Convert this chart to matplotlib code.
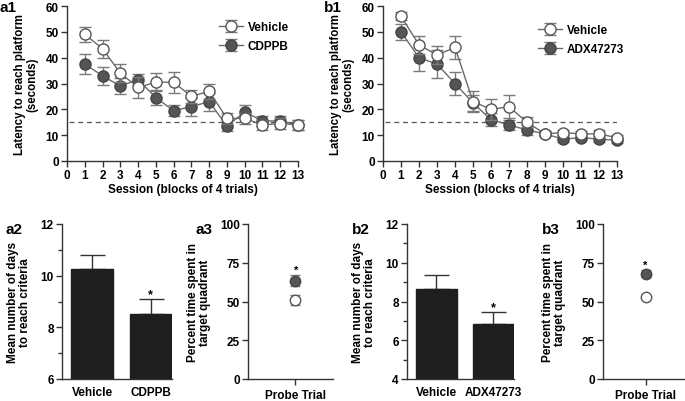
import numpy as np
import matplotlib.pyplot as plt

plt.rcParams['font.family'] = ['Liberation Sans', 'DejaVu Sans']
plt.rcParams['font.weight'] = 'bold'

# Data
sessions = np.arange(1, 14)

a1_vehicle = [49, 43.5, 34, 28.5, 30.5, 30.5, 25, 27, 16.5, 16.5, 14, 14.5, 14]
a1_vehicle_err = [3, 3.5, 3.5, 4, 3.5, 4, 2.5, 3, 2, 2, 2, 2, 2]
a1_cdppb = [37.5, 33, 29, 31.5, 24.5, 19.5, 21, 23, 13.5, 19, 15.5, 15.5, 14]
a1_cdppb_err = [4, 3.5, 3, 2, 3, 2, 3.5, 3.5, 2, 2.5, 2, 2, 2]

b1_vehicle = [56, 45, 41, 44, 23, 20, 21, 15, 10.5, 11, 10.5, 10.5, 9]
b1_vehicle_err = [1.5, 3.5, 3.5, 4.5, 4, 4, 4.5, 2, 1, 1, 1, 1.5, 1]
b1_adx = [50, 40, 37.5, 30, 22.5, 16, 14, 12, 10.5, 8.5, 9, 8.5, 8]
b1_adx_err = [3, 5, 5.5, 4.5, 3, 2.5, 2, 2, 1, 1, 1, 1, 1]

a2_groups = ['Vehicle', 'CDPPB']
a2_days = [10.25, 8.5]
a2_err = [0.55, 0.6]

a3_vehicle, a3_vehicle_err = 51, 3
a3_cdppb, a3_cdppb_err = 63.5, 3.5

b2_groups = ['Vehicle', 'ADX47273']
b2_days = [8.65, 6.85]
b2_err = [0.7, 0.6]

b3_vehicle, b3_vehicle_err = 53, 1
b3_adx, b3_adx_err = 68, 2.5

W, H = 685, 402
fig = plt.figure(figsize=(W / 100, H / 100), dpi=100)

FS = 8.5    # tick labels
LFS = 8.5   # axis labels


def box(l, r, t, b):
    return [l / W, 1 - b / H, (r - l) / W, (b - t) / H]


def style(ax):
    ax.spines['top'].set_visible(False)
    ax.spines['right'].set_visible(False)
    for s in ['left', 'bottom']:
        ax.spines[s].set_color('#333333')
        ax.spines[s].set_linewidth(1)
    ax.tick_params(direction='out', length=4, width=1, color='#333333',
                   labelsize=FS, pad=2)
    for lab in ax.get_xticklabels() + ax.get_yticklabels():
        lab.set_fontweight('bold')


LINE = '#6a6a6a'
FILL = '#555555'
ERR = '#7a7a7a'


def learning(ax, veh, veh_err, drug, drug_err, drug_name, leg_anchor):
    ax.errorbar(sessions, drug, yerr=drug_err, color=LINE, ecolor=ERR,
                elinewidth=1, capsize=4, capthick=1, lw=1, marker='o', ms=8,
                mfc=FILL, mec='#444444', label=drug_name, clip_on=False, zorder=3)
    ax.errorbar(sessions, veh, yerr=veh_err, color=LINE, ecolor=ERR,
                elinewidth=1, capsize=4, capthick=1, lw=1, marker='o', ms=8,
                mfc='white', mec='#555555', label='Vehicle', clip_on=False, zorder=4)
    ax.axhline(15, xmin=0.01, color='#555555', lw=0.9, ls=(0, (4, 3)), zorder=1)
    ax.set_xlim(0, 13)
    ax.set_ylim(0, 60)
    ax.set_xticks(range(0, 14))
    ax.set_yticks(range(0, 61, 10))
    ax.set_xlabel('Session (blocks of 4 trials)', fontsize=LFS, fontweight='bold', labelpad=1)
    ax.set_ylabel('Latency to reach platform\n(seconds)', fontsize=8.3,
                  fontweight='bold', labelpad=5, linespacing=1.0)
    handles, labels = ax.get_legend_handles_labels()
    leg = ax.legend(handles[::-1], labels[::-1], loc='upper right', frameon=False,
                    fontsize=LFS, handlelength=2.0, borderaxespad=0.2,
                    bbox_to_anchor=leg_anchor, labelspacing=0.6, handletextpad=0.4)
    for t in leg.get_texts():
        t.set_fontweight('bold')
    style(ax)


def bars(ax, groups, vals, errs, ylo, yticks, star_y):
    x = np.arange(len(groups))
    ax.bar(x, vals, width=0.72, color='#1e1e1e', edgecolor='#1e1e1e', zorder=2)
    ax.errorbar(x, vals, yerr=[[0, 0], errs], fmt='none', ecolor='#333333',
                elinewidth=1, capsize=9, capthick=1, zorder=1)
    ax.text(1, star_y, '*', ha='center', va='bottom', fontsize=9, fontweight='bold')
    ax.set_xlim(-0.51, 1.36)
    ax.set_ylim(ylo, 12)
    ax.set_yticks(yticks)
    ax.set_yticks(np.arange(ylo + 1, 12, 2), minor=True)
    ax.tick_params(which='minor', length=3, width=1, color='#333333')
    ax.set_xticks(x)
    ax.set_xticklabels(groups)
    ax.set_ylabel('Mean number of days\nto reach criteria', fontsize=LFS,
                  fontweight='bold', labelpad=7, linespacing=1.0)
    style(ax)
    ax.tick_params(axis='x', length=0, pad=5, labelsize=LFS)


def probe(ax, veh, veh_err, drug, drug_err, xr, star_xy):
    ax.errorbar([0], [drug], yerr=[drug_err], fmt='o', ms=7.5, mfc=FILL, mec='#444444',
                ecolor=ERR, elinewidth=1, capsize=3.5, capthick=1, zorder=3)
    ax.errorbar([0], [veh], yerr=[veh_err], fmt='o', ms=7.5, mfc='white', mec='#555555',
                ecolor=ERR, elinewidth=1, capsize=3.5, capthick=1, zorder=3)
    ax.text(star_xy[0], star_xy[1], '*', ha='center', va='bottom', fontsize=8,
            fontweight='bold')
    ax.set_xlim(-1, xr)
    ax.set_ylim(0, 100)
    ax.set_yticks([0, 25, 50, 75, 100])
    ax.set_xticks([0])
    ax.set_xticklabels(['Probe Trial'])
    ax.set_ylabel('Percent time spent in\ntarget quadrant', fontsize=LFS,
                  fontweight='bold', labelpad=6, linespacing=1.0)
    style(ax)
    ax.tick_params(axis='x', length=4, pad=3, labelsize=LFS)


ax_a1 = fig.add_axes(box(67, 298, 7, 162))
learning(ax_a1, a1_vehicle, a1_vehicle_err, a1_cdppb, a1_cdppb_err, 'CDPPB', (0.99, 0.95))

ax_b1 = fig.add_axes(box(383, 617, 7, 162))
learning(ax_b1, b1_vehicle, b1_vehicle_err, b1_adx, b1_adx_err, 'ADX47273', (1.06, 0.93))

ax_a2 = fig.add_axes(box(62, 172, 225, 380))
bars(ax_a2, a2_groups, a2_days, a2_err, 6, [6, 8, 10, 12], 9.05)

ax_a3 = fig.add_axes(box(248, 333, 225, 380))
probe(ax_a3, a3_vehicle, a3_vehicle_err, a3_cdppb, a3_cdppb_err, 0.8, (0.03, 67.5))

ax_b2 = fig.add_axes(box(407, 514, 225, 380))
bars(ax_b2, b2_groups, b2_days, b2_err, 4, [4, 6, 8, 10, 12], 7.4)

ax_b3 = fig.add_axes(box(603, 686, 225, 380))
probe(ax_b3, b3_vehicle, b3_vehicle_err, b3_adx, b3_adx_err, 0.95, (0, 70.5))

# panel letters
for txt, x, y in [('a1', 0, 1), ('b1', 324, 1), ('a2', 5, 223), ('a3', 196, 223),
                  ('b2', 352, 223), ('b3', 542, 223)]:
    fig.text(x / W, 1 - y / H, txt, ha='left', va='top', fontsize=11,
             fontweight='bold')

fig.savefig('out.png', dpi=100)
